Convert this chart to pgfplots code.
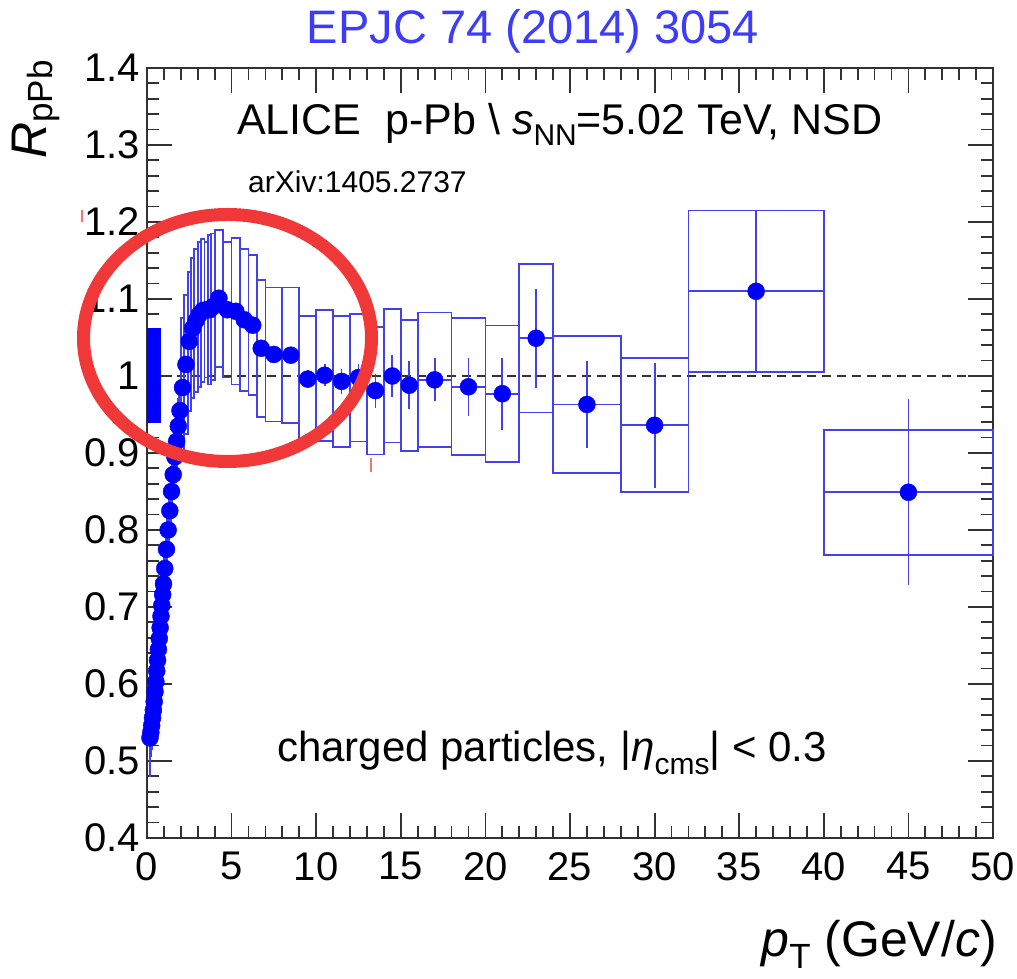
\documentclass[border=0pt]{standalone}
\usepackage{fontspec}
\setmainfont{Liberation Sans}
\usepackage{pgfplots}
\usepackage{pgfplotstable}
\pgfplotsset{compat=1.18}

\definecolor{markblue}{RGB}{0,0,255}
\definecolor{boxblue}{RGB}{66,66,232}
\definecolor{titleblue}{RGB}{60,60,250}
\definecolor{hlred}{RGB}{240,56,56}
\definecolor{axgray}{RGB}{50,50,50}

% R_pPb of charged particles: pT, half bin width, value, stat. and syst. uncertainty
\pgfplotstableread{
x     ex     y      stat   sys
0.175 0.025  0.530  0.004  0.050
0.225 0.025  0.537  0.003  0.030
0.275 0.025  0.546  0.003  0.030
0.325 0.025  0.556  0.003  0.028
0.375 0.025  0.566  0.003  0.028
0.425 0.025  0.577  0.003  0.028
0.475 0.025  0.590  0.003  0.028
0.525 0.025  0.603  0.003  0.028
0.575 0.025  0.617  0.003  0.028
0.625 0.025  0.631  0.003  0.028
0.675 0.025  0.645  0.003  0.028
0.725 0.025  0.659  0.003  0.028
0.775 0.025  0.673  0.003  0.028
0.825 0.025  0.688  0.003  0.028
0.875 0.025  0.702  0.003  0.028
0.925 0.025  0.716  0.003  0.028
0.975 0.025  0.730  0.003  0.028
1.05  0.05   0.750  0.003  0.030
1.15  0.05   0.775  0.003  0.030
1.25  0.05   0.800  0.003  0.030
1.35  0.05   0.825  0.003  0.030
1.45  0.05   0.850  0.003  0.032
1.55  0.05   0.872  0.003  0.032
1.65  0.05   0.895  0.003  0.033
1.75  0.05   0.915  0.003  0.034
1.85  0.05   0.935  0.003  0.035
1.95  0.05   0.955  0.003  0.035
2.1   0.1    0.985  0.004  0.090
2.3   0.1    1.015  0.004  0.090
2.5   0.1    1.045  0.004  0.090
2.7   0.1    1.062  0.004  0.091
2.9   0.1    1.072  0.004  0.093
3.1   0.1    1.080  0.005  0.094
3.3   0.1    1.085  0.005  0.093
3.5   0.1    1.086  0.005  0.088
3.7   0.1    1.086  0.005  0.097
3.9   0.1    1.090  0.006  0.095
4.25  0.25   1.101  0.005  0.089
4.75  0.25   1.086  0.006  0.088
5.25  0.25   1.084  0.007  0.095
5.75  0.25   1.073  0.008  0.092
6.25  0.25   1.066  0.009  0.091
6.75  0.25   1.036  0.010  0.089
7.5   0.5    1.028  0.008  0.087
8.5   0.5    1.027  0.010  0.088
9.5   0.5    0.996  0.012  0.082
10.5  0.5    1.001  0.014  0.085
11.5  0.5    0.993  0.016  0.085
12.5  0.5    0.998  0.018  0.083
13.5  0.5    0.981  0.022  0.083
14.5  0.5    1.000  0.027  0.0865
15.5  0.5    0.988  0.031  0.085
17    1      0.995  0.028  0.0875
19    1      0.986  0.038  0.089
21    1      0.977  0.047  0.0885
23    1      1.049  0.064  0.0965
26    2      0.963  0.056  0.089
30    2      0.936  0.081  0.087
36    4      1.110  0.104  0.105
45    5      0.849  0.121  0.081
}\rpa

\begin{document}
\begin{tikzpicture}
\useasboundingbox (-147pt,-141pt) rectangle (870pt,838pt);
\begin{axis}[
  scale only axis, width=846pt, height=770pt,
  xmin=0, xmax=50, ymin=0.4, ymax=1.4,
  xtick={0,5,...,50},
  ytick={0.4,0.5,0.6,0.7,0.8,0.9,1,1.1,1.2,1.3,1.4},
  minor x tick num=4, minor y tick num=4,
  tick align=inside,
  major tick length=25pt, minor tick length=12pt,
  axis line style={line width=2pt, axgray},
  tick style={line width=1.8pt, axgray},
  tick label style={font=\fontsize{40}{40}\selectfont},
  /pgf/number format/assume math mode=true,
  yticklabel style={inner sep=0pt, xshift=-7pt},
  xticklabel style={inner sep=0pt, yshift=-14pt},
  clip=false,
]
% reference line at unity
\addplot[axgray, line width=1.8pt, dash pattern=on 9pt off 6pt] coordinates {(0,1) (50,1)};

% normalisation uncertainty
\addplot[fill=markblue, draw=none] coordinates {(0,0.939) (0.8,0.939) (0.8,1.062) (0,1.062)} -- cycle;

% systematic uncertainty boxes
\pgfplotstablegetrowsof{\rpa}
\pgfmathtruncatemacro{\lastrow}{\pgfplotsretval-1}
\pgfplotsforeachungrouped \i in {0,...,\lastrow}{%
  \pgfplotstablegetelem{\i}{x}\of\rpa \let\bx\pgfplotsretval
  \pgfplotstablegetelem{\i}{ex}\of\rpa \let\bex\pgfplotsretval
  \pgfplotstablegetelem{\i}{y}\of\rpa \let\by\pgfplotsretval
  \pgfplotstablegetelem{\i}{sys}\of\rpa \let\bsys\pgfplotsretval
  \pgfmathsetmacro{\xl}{\bx-\bex}%
  \pgfmathsetmacro{\xh}{\bx+\bex}%
  \pgfmathsetmacro{\yl}{\by-\bsys}%
  \pgfmathsetmacro{\yh}{\by+\bsys}%
  \edef\sysbox{\noexpand\addplot[boxblue, line width=1.8pt, line join=miter, forget plot]
    coordinates {(\xl,\yl) (\xh,\yl) (\xh,\yh) (\xl,\yh)} -- cycle;}%
  \sysbox
}

% data points with statistical uncertainties
\addplot[only marks, mark=*, mark size=8.5pt, mark options={draw=markblue, fill=markblue},
  error bars/.cd, x dir=both, x explicit, y dir=both, y explicit, error mark=none,
  error bar style={boxblue, line width=1.8pt}]
  table[x=x, y=y, x error=ex, y error=stat]{\rpa};

% labels inside the frame
\node[anchor=base west, inner sep=0pt, font=\fontsize{43}{43}\selectfont] at (axis cs:5.32,1.313)
  {ALICE\ \ p-Pb \textbackslash\ \textit{s}\raisebox{-0.25em}{\fontsize{30}{30}\selectfont NN}=5.02 TeV, NSD};
\node[anchor=base west, inner sep=0pt, font=\fontsize{30}{30}\selectfont] at (axis cs:5.97,1.2377) {arXiv:1405.2737};
\node[anchor=base west, inner sep=0pt, font=\fontsize{42}{42}\selectfont] at (axis cs:7.68,0.4987)
  {charged particles, |\textit{η}\raisebox{-0.3em}{\fontsize{30}{30}\selectfont cms}| < 0.3};
\end{axis}

% title and axis titles
\node[anchor=base, inner sep=0pt, text=titleblue, font=\fontsize{47}{47}\selectfont] at (386pt,794pt) {EPJC 74 (2014) 3054};
\node[anchor=base east, inner sep=0pt, font=\fontsize{50}{50}\selectfont] at (850pt,-118pt)
  {\textit{p}\raisebox{-0.26em}{\fontsize{35}{35}\selectfont T} (GeV/\textit{c})};
\node[anchor=base east, inner sep=0pt, rotate=90, font=\fontsize{50}{50}\selectfont] at (-100pt,778pt)
  {\textit{R}\raisebox{-0.12em}{\fontsize{35}{35}\selectfont pPb}};

% highlight
\draw[hlred, line width=13pt] (80.5pt,500pt) ellipse [x radius=144pt, y radius=123.5pt];
\draw[hlred!70, line width=1.5pt] (-65pt,628pt) -- (-65pt,616pt);
\draw[hlred!70, line width=1.5pt] (224pt,380pt) -- (224pt,366pt);
\end{tikzpicture}
\end{document}
